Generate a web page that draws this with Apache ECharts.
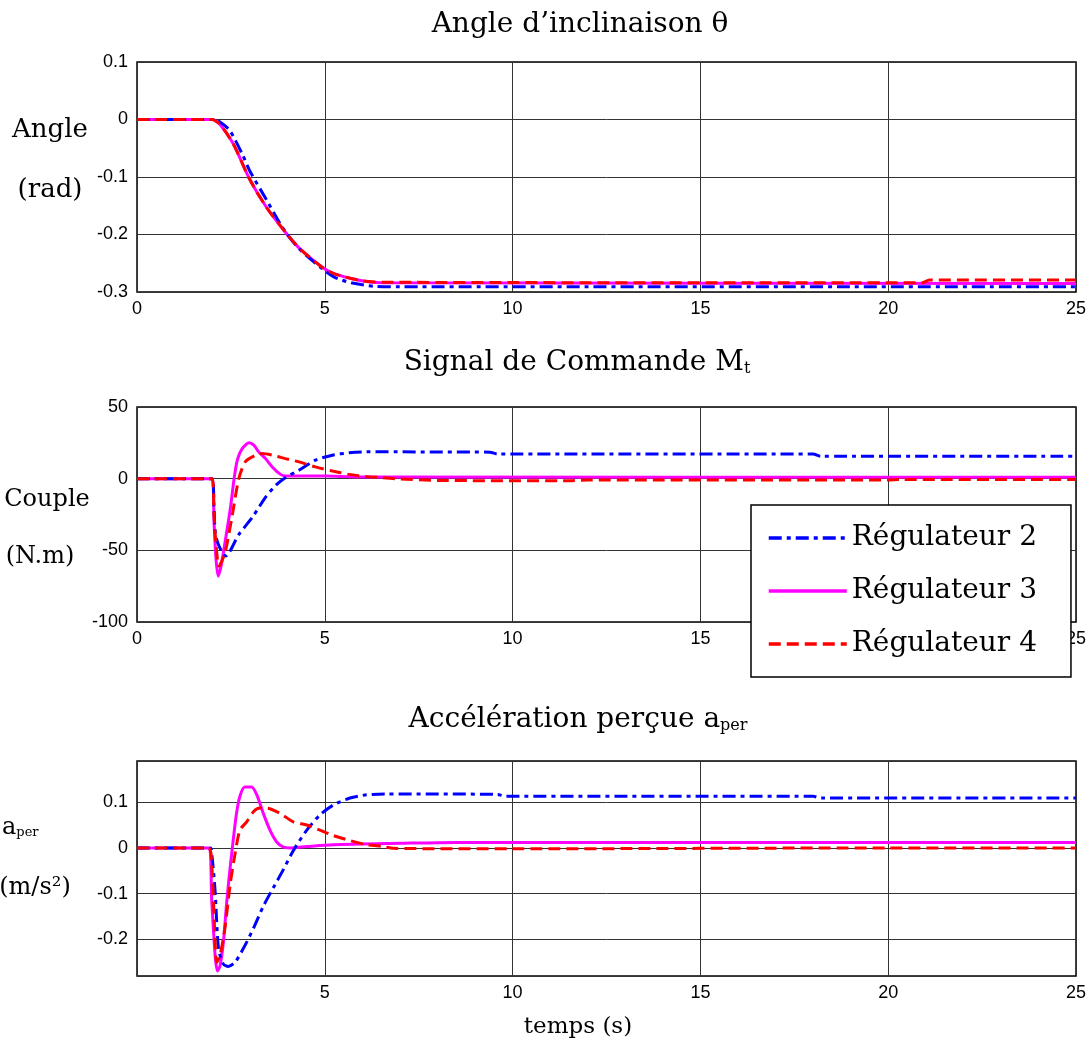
<!DOCTYPE html>
<html>
<head>
<meta charset="utf-8">
<script src="https://cdn.jsdelivr.net/npm/echarts@6/dist/echarts.min.js"></script>
<style>html,body{margin:0;padding:0;background:#fff}#c{width:1091px;height:1050px}</style>
</head>
<body>
<div id="c"></div>
<script>
// ---------- data ----------
const seriesNames = ['Régulateur 2', 'Régulateur 3', 'Régulateur 4'];
const xTicks = [0, 5, 10, 15, 20, 25];

// Angle d'inclinaison (rad)
const angleR2 = [[0,0],[2.05,0],[2.2,-0.004],[2.47,-0.019],[2.8,-0.06],[3.0,-0.089],[3.45,-0.14],[3.8,-0.18],[4.0,-0.2],[4.35,-0.227],[4.9,-0.258],[5.25,-0.274],[5.7,-0.284],[6.3,-0.29],[7,-0.291],[25,-0.291]];
const angleR3 = [[0,0],[2.0,0],[2.2,-0.008],[2.56,-0.042],[3.0,-0.104],[3.45,-0.153],[4.0,-0.2],[4.34,-0.225],[4.93,-0.257],[5.24,-0.268],[5.94,-0.28],[6.5,-0.284],[25,-0.285]];
const angleR4 = [[0,0],[2.0,0],[2.2,-0.008],[2.56,-0.042],[3.0,-0.104],[3.45,-0.153],[4.0,-0.2],[4.34,-0.225],[4.93,-0.257],[5.24,-0.268],[5.94,-0.28],[6.5,-0.283],[20.9,-0.284],[21.1,-0.279],[25,-0.279]];

// Couple (N.m)
const coupleR2 = [[0,0],[2.0,0],[2.05,-20],[2.09,-39],[2.2,-48],[2.36,-54],[2.71,-39],[3.07,-27],[3.42,-13],[3.69,-4.7],[3.95,0.7],[4.31,5.9],[4.75,12.9],[5.2,16.4],[5.64,18],[6.08,18.7],[9.4,18.5],[9.6,17.2],[18,17.2],[18.2,15.6],[25,15.6]];
const coupleR3 = [[0,0],[2.0,0],[2.05,-30],[2.1,-55],[2.16,-68],[2.23,-62],[2.31,-50],[2.49,-20],[2.58,-1],[2.67,13],[2.8,21],[2.98,25],[3.11,23.4],[3.24,18.7],[3.42,14],[3.6,8.2],[3.82,3],[3.95,1.9],[5,1.8],[6,1.2],[25,1]];
const coupleR4 = [[0,0],[2.0,0],[2.05,-25],[2.1,-45],[2.18,-61],[2.25,-58],[2.36,-50],[2.54,-25],[2.71,0],[2.89,12],[3.16,16.4],[3.33,17.5],[3.6,16.4],[3.95,14],[4.31,11.7],[4.75,8.2],[5.2,5.4],[5.64,3],[6.08,1.6],[6.5,0.7],[6.97,-0.2],[8,-1.2],[11.4,-1.5],[12,-1],[20,-1],[20.3,-0.5],[25,-0.5]];

// Accélération perçue (m/s²)
const accR2 = [[0,0],[1.95,0],[2.0,-0.02],[2.08,-0.095],[2.17,-0.22],[2.3,-0.254],[2.43,-0.259],[2.61,-0.25],[2.83,-0.22],[3.1,-0.176],[3.36,-0.128],[3.63,-0.087],[3.9,-0.047],[4.16,-0.006],[4.52,0.039],[4.87,0.072],[5.23,0.094],[5.67,0.109],[6.11,0.116],[6.6,0.118],[9.6,0.117],[9.8,0.113],[18,0.113],[18.2,0.109],[25,0.109]];
const accR3 = [[0,0],[1.9,0],[1.99,-0.117],[2.08,-0.235],[2.14,-0.269],[2.21,-0.258],[2.3,-0.206],[2.39,-0.117],[2.48,-0.043],[2.56,0.016],[2.65,0.076],[2.74,0.113],[2.87,0.133],[3.05,0.133],[3.19,0.116],[3.36,0.076],[3.54,0.039],[3.72,0.013],[3.9,0.0015],[4.07,0],[4.52,0.003],[5.23,0.007],[7,0.01],[8.5,0.012],[25,0.012]];
const accR4 = [[0,0],[1.9,0],[1.99,-0.036],[2.08,-0.206],[2.12,-0.25],[2.21,-0.235],[2.34,-0.176],[2.48,-0.08],[2.61,-0.013],[2.74,0.039],[2.92,0.057],[3.1,0.079],[3.27,0.087],[3.45,0.087],[3.8,0.076],[4.16,0.057],[4.52,0.05],[4.87,0.039],[5.23,0.027],[5.67,0.016],[6.11,0.007],[6.56,0.003],[6.82,-0.001],[10,-0.002],[20,0],[25,0]];

// ---------- chart ----------
const SERIF = '"DejaVu Serif", "Liberation Serif", serif';
const SANS = '"Liberation Sans", Arial, sans-serif';
const colors = ['#0000ff', '#ff00ff', '#ff0000'];
const lineTypes = [[13, 5, 4, 5], 'solid', [12, 6]];

const chart = echarts.init(document.getElementById('c'));

const grids = [
  {left: 137, top: 62, width: 939, height: 230},
  {left: 137, top: 407, width: 939, height: 215},
  {left: 137, top: 761, width: 939, height: 215}
].map(g => Object.assign(g, {show: true, borderColor: '#000', borderWidth: 1.5, backgroundColor: '#fff', containLabel: false}));

function xAxis(i, hideMin) {
  return {
    type: 'value', gridIndex: i, min: xTicks[0], max: xTicks[xTicks.length - 1], interval: 5,
    axisLine: {show: false}, axisTick: {show: false},
    axisLabel: {color: '#000', fontFamily: SANS, fontSize: 18, margin: 8, showMinLabel: !hideMin},
    splitLine: {show: true, lineStyle: {color: '#333', width: 1}}
  };
}
function yAxis(i, extra) {
  return Object.assign({
    type: 'value', gridIndex: i,
    axisLine: {show: false}, axisTick: {show: false},
    axisLabel: {color: '#000', fontFamily: SANS, fontSize: 18, margin: 9},
    splitLine: {show: true, lineStyle: {color: '#333', width: 1}}
  }, extra);
}

const sets = [[angleR2, angleR3, angleR4], [coupleR2, coupleR3, coupleR4], [accR2, accR3, accR4]];
const series = [];
sets.forEach((arr, gi) => {
  arr.forEach((d, si) => {
    series.push({
      type: 'line', name: seriesNames[si], xAxisIndex: gi, yAxisIndex: gi,
      data: d, symbol: 'none', smooth: 0.25, z: 3 + (si === 2 ? 2 : si === 0 ? 1 : 0),
      lineStyle: {color: colors[si], width: 3, type: lineTypes[si]},
      itemStyle: {color: colors[si]}
    });
  });
});

function txt(text, x, y, size, align, rich) {
  return {type: 'text', x: x, y: y, z: 100,
    style: {text: text, fontFamily: SERIF, fontSize: size, fill: '#000', align: align || 'center', verticalAlign: 'middle', rich: rich}};
}
const subRich = {s: {fontFamily: SERIF, fontSize: 16, fill: '#000', padding: [12, 0, 0, 0]}};
const subRichSmall = {s: {fontFamily: SERIF, fontSize: 13, fill: '#000', padding: [10, 0, 0, 0]}};

chart.setOption({
  animation: false,
  backgroundColor: '#fff',
  grid: grids,
  xAxis: [xAxis(0), xAxis(1), xAxis(2, true)],
  yAxis: [
    yAxis(0, {min: -0.3, max: 0.1, interval: 0.1}),
    yAxis(1, {min: -100, max: 50, interval: 50}),
    yAxis(2, {min: -0.28, max: 0.19, splitNumber: 5,
      axisLabel: {color: '#000', fontFamily: SANS, fontSize: 18, margin: 9, showMinLabel: false, showMaxLabel: false}})
  ],
  legend: {
    orient: 'vertical', left: 751, top: 505, z: 50,
    backgroundColor: '#fff', borderColor: '#000', borderWidth: 1.5,
    padding: [16, 34, 16, 16], itemGap: 19, itemWidth: 78, itemHeight: 18,
    itemStyle: {opacity: 0},
    lineStyle: {width: 3.5},
    textStyle: {fontFamily: SERIF, fontSize: 28, color: '#000', lineHeight: 34},
    data: seriesNames
  },
  series: series,
  graphic: [
    txt('Angle d\u2019inclinaison \u03b8', 580, 25, 28),
    txt('Signal de Commande M{s|t}', 577, 363, 28, 'center', subRich),
    txt('Accélération perçue a{s|per}', 578, 720, 28, 'center', subRich),
    txt('Angle', 50, 130, 26),
    txt('(rad)', 50, 190, 26),
    txt('Couple', 47, 500, 24),
    txt('(N.m)', 40, 557, 24),
    txt('a{s|per}', 2, 828, 24, 'left', subRichSmall),
    txt('(m/s\u00b2)', 35, 888, 24),
    txt('temps (s)', 578, 1027, 23)
  ]
});
</script>
</body>
</html>
